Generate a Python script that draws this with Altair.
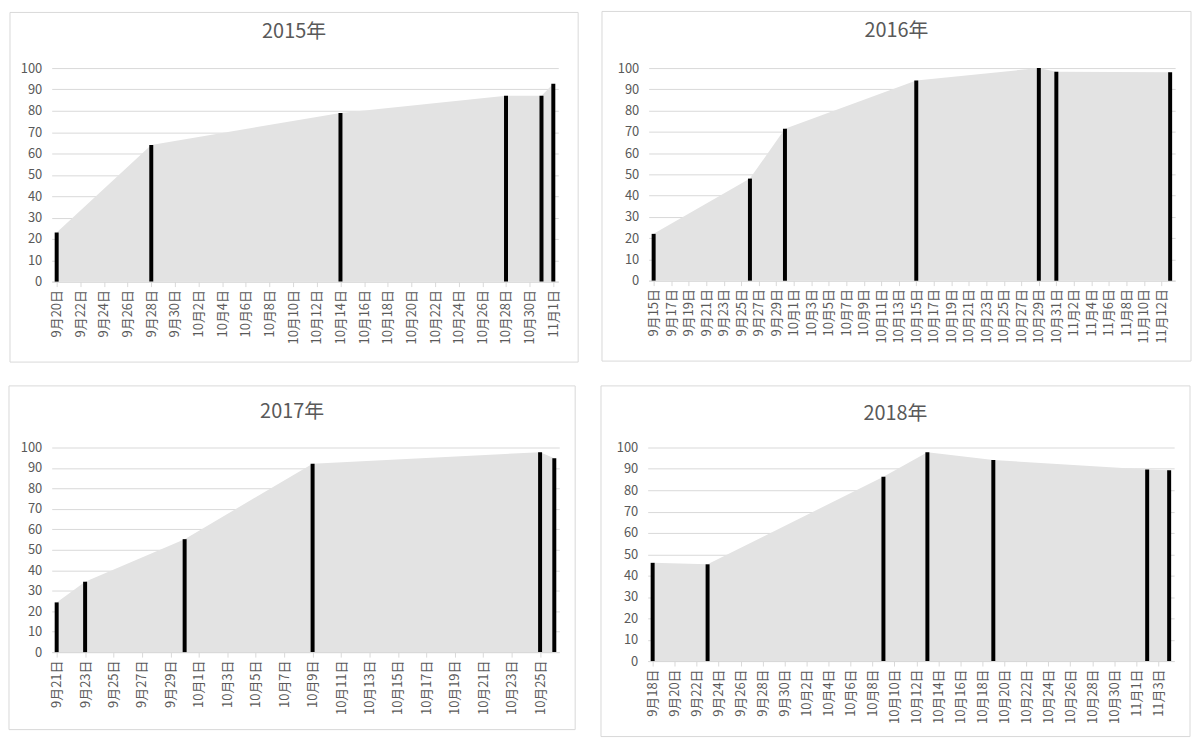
import altair as alt
import pandas as pd

# ---- data ----
titles = ["2015年", "2016年", "2017年", "2018年"]

dates_2015 = ["2015-09-20", "2015-09-28", "2015-10-14", "2015-10-28", "2015-10-31", "2015-11-01"]
values_2015 = [23, 64, 79, 87, 87, 92.6]

dates_2016 = ["2016-09-15", "2016-09-26", "2016-09-30", "2016-10-15", "2016-10-29", "2016-10-31", "2016-11-13"]
values_2016 = [22, 48, 71.5, 94.2, 100, 98.3, 98]

dates_2017 = ["2017-09-21", "2017-09-23", "2017-09-30", "2017-10-09", "2017-10-25", "2017-10-26"]
values_2017 = [24.3, 34.4, 55.2, 92.1, 97.7, 94.7]

dates_2018 = ["2018-09-18", "2018-09-23", "2018-10-09", "2018-10-13", "2018-10-19", "2018-11-02", "2018-11-04"]
values_2018 = [46, 45.3, 86.3, 97.8, 94.1, 89.7, 89.3]

# first tick label of each panel (labels every 2 days)
tick_start = ["2015-09-20", "2016-09-15", "2017-09-21", "2018-09-18"]

# ---- styling ----
GRAY_TXT = "#595959"
GRID = "#d9d9d9"
AREA = "#e3e3e3"
FONT = "Noto Sans CJK JP"

# (width, height, border offsets: left, top, right, bottom, title y)
layout = [
    (510, 215, 42, 56, 20, 81, -36),
    (530, 214, 47, 57, 16, 81, -37),
    (511, 206, 43, 62, 16, 78, -36),
    (530, 215, 47, 62, 16, 76, -34),
]


def ms(s):
    return int(pd.Timestamp(s, tz="UTC").value // 10**6)


def panel(title, dates, values, tstart, lay):
    W, H, bl, bt, br, bb, ty = lay
    df = pd.DataFrame({"date": dates, "value": values})
    ticks = [ms(t) for t in pd.date_range(tstart, dates[-1], freq="2D")]
    xscale = alt.Scale(type="utc", domain=[ms(dates[0]), ms(dates[-1])], nice=False)
    xaxis = alt.Axis(
        values=ticks,
        labelExpr="(utcmonth(datum.value)+1) + '月' + utcdate(datum.value) + '日'",
        labelAngle=270,
        labelColor=GRAY_TXT,
        labelFont=FONT,
        labelFontSize=13,
        labelOverlap=False,
        labelPadding=3,
        domainColor=GRID,
        tickColor=GRID,
        tickSize=5,
        grid=False,
        title=None,
    )
    yaxis = alt.Axis(
        values=list(range(0, 101, 10)),
        domain=False,
        ticks=False,
        labelColor=GRAY_TXT,
        labelFont=FONT,
        labelFontSize=13,
        labelPadding=10,
        gridColor=GRID,
        title=None,
    )
    base = alt.Chart(df).encode(
        x=alt.X("date:T", scale=xscale, axis=xaxis),
        y=alt.Y("value:Q", scale=alt.Scale(domain=[0, 100]), axis=yaxis),
    )
    area = base.mark_area(color=AREA)
    bars = base.mark_bar(color="black", size=4)
    border = alt.Chart(alt.Data(values=[{}])).mark_rect(
        fill="white", fillOpacity=0, stroke=GRID, strokeWidth=1
    ).encode(
        x=alt.value(-bl), x2=alt.value(W + br), y=alt.value(-bt), y2=alt.value(H + bb)
    )
    ttl = alt.Chart(alt.Data(values=[{}])).mark_text(
        text=title, font=FONT, fontSize=20, color=GRAY_TXT, baseline="middle", align="center"
    ).encode(x=alt.value((W + br - bl) / 2), y=alt.value(ty))
    return alt.layer(border, area, bars, ttl).properties(width=W, height=H)


p1 = panel(titles[0], dates_2015, values_2015, tick_start[0], layout[0])
p2 = panel(titles[1], dates_2016, values_2016, tick_start[1], layout[1])
p3 = panel(titles[2], dates_2017, values_2017, tick_start[2], layout[2])
p4 = panel(titles[3], dates_2018, values_2018, tick_start[3], layout[3])

row1 = alt.hconcat(p1, p2, spacing=22)
row2 = alt.hconcat(p3, p4, spacing=24)
chart = alt.vconcat(row1, row2, spacing=22).properties(
    padding=0, background="white"
).configure_view(stroke=None)

chart.save("out.html", embed_options={"renderer": "svg", "actions": False})
